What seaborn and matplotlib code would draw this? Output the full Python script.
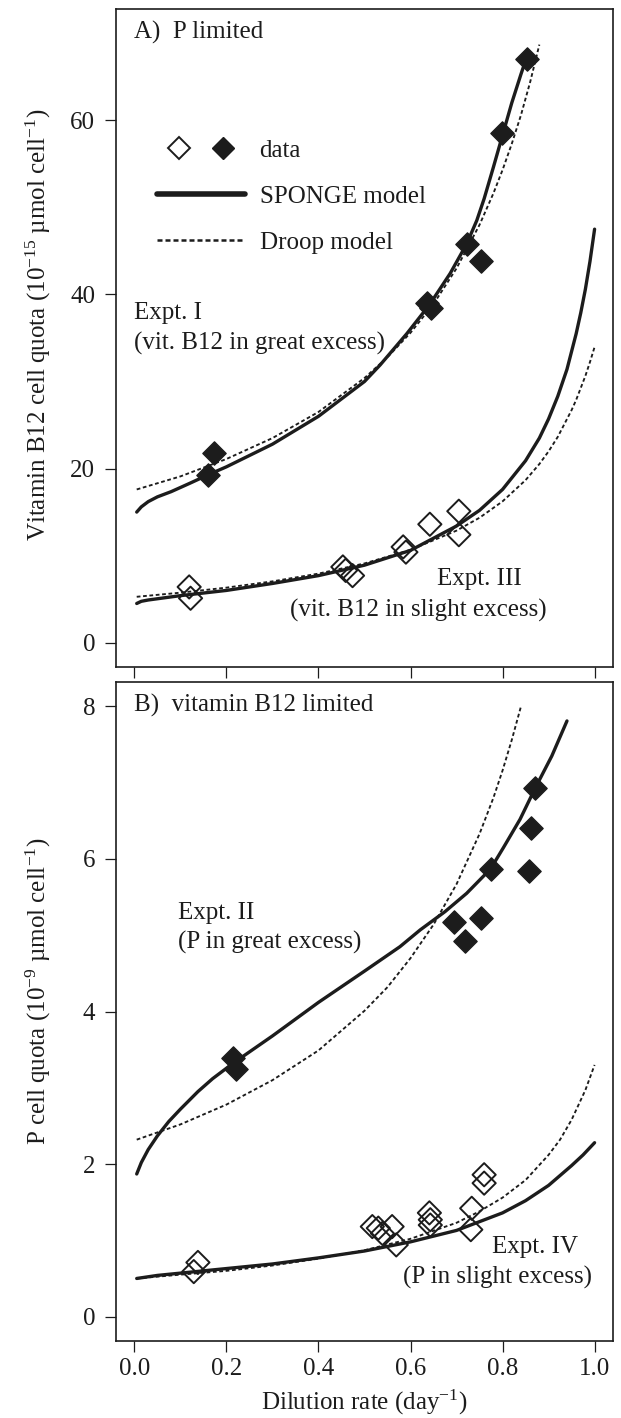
import matplotlib
matplotlib.use("Agg")
import matplotlib.pyplot as plt
import pandas as pd
import seaborn as sns
from matplotlib.lines import Line2D
from matplotlib.legend_handler import HandlerTuple

# ---------------- measured data ----------------
# Panel A: P limited chemostats
expt1_rate = [0.161, 0.172, 0.635, 0.645, 0.722, 0.753, 0.798, 0.853]
expt1_quota = [19.3, 21.8, 39.0, 38.5, 45.8, 43.8, 58.5, 67.0]

expt3_rate = [0.119, 0.122, 0.453, 0.459, 0.474, 0.584, 0.590, 0.642, 0.705, 0.705]
expt3_quota = [6.4, 5.1, 8.7, 8.3, 7.7, 11.0, 10.4, 13.6, 15.1, 12.4]

# Panel B: vitamin B12 limited chemostats
expt2_rate = [0.214, 0.220, 0.694, 0.719, 0.753, 0.774, 0.858, 0.862, 0.871]
expt2_quota = [3.39, 3.24, 5.17, 4.93, 5.22, 5.87, 5.84, 6.40, 6.93]

expt4_rate = [0.129, 0.138, 0.517, 0.530, 0.539, 0.560, 0.569, 0.641, 0.643,
              0.643, 0.731, 0.733, 0.760, 0.760]
expt4_quota = [0.59, 0.71, 1.18, 1.16, 1.09, 1.18, 0.94, 1.36, 1.27,
               1.20, 1.14, 1.42, 1.75, 1.86]

# ---------------- model curves ----------------
sponge1_rate = [0.005, 0.015, 0.03, 0.05, 0.08, 0.12, 0.161, 0.20, 0.30, 0.40,
                0.50, 0.534, 0.592, 0.641, 0.686, 0.722, 0.744, 0.76, 0.78,
                0.80, 0.82, 0.84, 0.856]
sponge1_quota = [15.0, 15.6, 16.2, 16.75, 17.35, 18.3, 19.3, 20.2, 22.8, 26.0,
                 30.0, 31.9, 35.5, 38.8, 42.4, 45.8, 48.5, 51.0, 54.6,
                 58.3, 62.0, 65.3, 67.8]
droop1_rate = [0.005, 0.10, 0.20, 0.30, 0.40, 0.50, 0.55, 0.60, 0.65, 0.70,
               0.75, 0.78, 0.80, 0.82, 0.84, 0.86, 0.88]
droop1_quota = [17.6, 19.1, 21.1, 23.5, 26.5, 30.4, 32.8, 35.6, 38.9, 43.0,
                48.0, 51.6, 54.3, 57.3, 60.6, 64.4, 68.7]

sponge3_rate = [0.005, 0.015, 0.03, 0.10, 0.20, 0.30, 0.40, 0.50, 0.60, 0.70,
                0.75, 0.80, 0.85, 0.88, 0.90, 0.92, 0.94, 0.96, 0.97, 0.98,
                0.99, 1.00]
sponge3_quota = [4.5, 4.75, 4.9, 5.4, 6.0, 6.8, 7.7, 8.9, 10.6, 13.4,
                 15.2, 17.6, 20.9, 23.5, 25.7, 28.3, 31.4, 35.5, 37.9, 40.6,
                 43.8, 47.5]
droop3_rate = [0.005, 0.10, 0.20, 0.30, 0.40, 0.50, 0.60, 0.70, 0.75, 0.80,
               0.85, 0.88, 0.90, 0.92, 0.95, 0.96, 0.98, 0.99, 1.00]
droop3_quota = [5.27, 5.74, 6.32, 7.04, 7.93, 9.10, 10.66, 12.87, 14.35, 16.23,
                18.67, 20.52, 21.97, 23.64, 26.71, 27.89, 30.64, 32.24, 33.97]

sponge2_rate = [0.005, 0.015, 0.03, 0.05, 0.075, 0.10, 0.138, 0.17, 0.214,
                0.30, 0.40, 0.50, 0.577, 0.621, 0.675, 0.722, 0.774, 0.802,
                0.838, 0.871, 0.907, 0.94]
sponge2_quota = [1.87, 2.02, 2.19, 2.37, 2.56, 2.72, 2.95, 3.12, 3.32,
                 3.68, 4.12, 4.53, 4.85, 5.07, 5.31, 5.55, 5.87, 6.15,
                 6.52, 6.93, 7.35, 7.81]
droop2_rate = [0.005, 0.10, 0.20, 0.30, 0.40, 0.50, 0.55, 0.60, 0.65, 0.70,
               0.75, 0.78, 0.80, 0.82, 0.84]
droop2_quota = [2.32, 2.52, 2.78, 3.10, 3.49, 4.01, 4.32, 4.70, 5.14, 5.67,
                6.33, 6.80, 7.16, 7.56, 8.00]

sponge4_rate = [0.005, 0.05, 0.10, 0.20, 0.30, 0.40, 0.50, 0.60, 0.70, 0.80,
                0.85, 0.90, 0.95, 0.975, 1.00]
sponge4_quota = [0.50, 0.54, 0.57, 0.63, 0.69, 0.77, 0.86, 0.98, 1.13, 1.36,
                 1.52, 1.72, 1.98, 2.12, 2.28]
droop4_rate = [0.005, 0.10, 0.20, 0.30, 0.40, 0.50, 0.60, 0.70, 0.75, 0.80,
               0.85, 0.90, 0.925, 0.95, 0.98, 1.00]
droop4_quota = [0.50, 0.55, 0.60, 0.67, 0.76, 0.87, 1.02, 1.23, 1.38, 1.56,
                1.79, 2.12, 2.32, 2.58, 2.97, 3.30]

x_ticks = [0.0, 0.2, 0.4, 0.6, 0.8, 1.0]
x_ticklabels = ["0.0", "0.2", "0.4", "0.6", "0.8", "1.0"]
yA_ticks = [0, 20, 40, 60]
yB_ticks = [0, 2, 4, 6, 8]

# ---------------- style ----------------
sns.set_style("ticks")
plt.rcParams["font.family"] = ["Liberation Serif", "DejaVu Serif"]
plt.rcParams["mathtext.fontset"] = "custom"
plt.rcParams["mathtext.rm"] = "Liberation Serif"
plt.rcParams["mathtext.it"] = "Liberation Serif:italic"
plt.rcParams["mathtext.bf"] = "Liberation Serif:bold"
INK = "#1c1c1c"
FS = 18

fig = plt.figure(figsize=(6.21, 14.18), dpi=100)
axA = fig.add_axes([0.1868, 0.5296, 0.8003, 0.4641])
axB = fig.add_axes([0.1868, 0.0543, 0.8003, 0.4647])

SOLID_LW = 2.4
DOT_LW = 1.35
DOT_STYLE = (0, (2.0, 1.4))
MS = 140


def curve(ax, xs, ys, dotted=False):
    df = pd.DataFrame({"rate": xs, "quota": ys})
    if dotted:
        sns.lineplot(data=df, x="rate", y="quota", ax=ax, color=INK,
                     lw=DOT_LW, linestyle=DOT_STYLE, estimator=None, sort=False)
    else:
        sns.lineplot(data=df, x="rate", y="quota", ax=ax, color=INK,
                     lw=SOLID_LW, estimator=None, sort=False,
                     solid_capstyle="round", solid_joinstyle="round")


def points(ax, xs, ys, filled):
    df = pd.DataFrame({"rate": xs, "quota": ys})
    if filled:
        sns.scatterplot(data=df, x="rate", y="quota", ax=ax, marker="D", s=MS,
                        color=INK, edgecolor=INK, linewidth=1.0, zorder=4)
    else:
        sns.scatterplot(data=df, x="rate", y="quota", ax=ax, marker="D", s=MS,
                        facecolor="none", edgecolor=INK, linewidth=1.4, zorder=4)


# Panel A
curve(axA, droop1_rate, droop1_quota, dotted=True)
curve(axA, droop3_rate, droop3_quota, dotted=True)
curve(axA, sponge1_rate, sponge1_quota)
curve(axA, sponge3_rate, sponge3_quota)
points(axA, expt3_rate, expt3_quota, filled=False)
points(axA, expt1_rate, expt1_quota, filled=True)

# Panel B
curve(axB, droop2_rate, droop2_quota, dotted=True)
curve(axB, droop4_rate, droop4_quota, dotted=True)
curve(axB, sponge2_rate, sponge2_quota)
curve(axB, sponge4_rate, sponge4_quota)
points(axB, expt4_rate, expt4_quota, filled=False)
points(axB, expt2_rate, expt2_quota, filled=True)

for ax in (axA, axB):
    ax.set_xlim(-0.04, 1.04)
    ax.set_xticks(x_ticks)
    for sp in ax.spines.values():
        sp.set_visible(True)
        sp.set_linewidth(1.2)
        sp.set_color(INK)
    ax.tick_params(axis="both", direction="out", length=8, width=0.9,
                   colors=INK, labelsize=FS, labelcolor=INK)
    ax.tick_params(axis="y", pad=7)
    ax.tick_params(axis="x", pad=4)
    ax.tick_params(top=False, right=False)

axA.set_ylim(-2.8, 72.8)
axA.set_yticks(yA_ticks)
axA.set_xticklabels([])
axA.set_xlabel("")
axA.set_ylabel(r"Vitamin B12 cell quota (10$^{-15}$ µmol cell$^{-1}$)",
               fontsize=FS, color=INK)
axA.yaxis.set_label_coords(-0.127, 0.52)

axB.set_ylim(-0.32, 8.32)
axB.set_yticks(yB_ticks)
axB.set_xticklabels(x_ticklabels)
axB.set_xlabel(r"Dilution rate (day$^{-1}$)", fontsize=FS, color=INK, labelpad=6)
axB.set_ylabel(r"P cell quota (10$^{-9}$ µmol cell$^{-1}$)", fontsize=FS, color=INK)
axB.yaxis.set_label_coords(-0.127, 0.531)

# Panel annotations
tA = axA.transAxes
axA.text(0.036, 0.965, "A)  P limited", transform=tA, fontsize=FS, color=INK,
         va="center", ha="left")
axA.text(0.036, 0.538, "Expt. I", transform=tA, fontsize=FS, color=INK,
         va="center", ha="left")
axA.text(0.036, 0.492, "(vit. B12 in great excess)", transform=tA, fontsize=FS,
         color=INK, va="center", ha="left")
axA.text(0.732, 0.134, "Expt. III", transform=tA, fontsize=FS, color=INK,
         va="center", ha="center")
axA.text(0.608, 0.0866, "(vit. B12 in slight excess)", transform=tA, fontsize=FS,
         color=INK, va="center", ha="center")

tB = axB.transAxes
axB.text(0.036, 0.965, "B)  vitamin B12 limited", transform=tB, fontsize=FS,
         color=INK, va="center", ha="left")
axB.text(0.125, 0.649, "Expt. II", transform=tB, fontsize=FS, color=INK,
         va="center", ha="left")
axB.text(0.125, 0.605, "(P in great excess)", transform=tB, fontsize=FS,
         color=INK, va="center", ha="left")
axB.text(0.93, 0.1426, "Expt. IV", transform=tB, fontsize=FS, color=INK,
         va="center", ha="right")
axB.text(0.958, 0.097, "(P in slight excess)", transform=tB, fontsize=FS,
         color=INK, va="center", ha="right")

# Legend
open_h = Line2D([], [], marker="D", linestyle="none", markersize=11,
                markerfacecolor="white", markeredgecolor=INK, markeredgewidth=1.4)
fill_h = Line2D([], [], marker="D", linestyle="none", markersize=11,
                markerfacecolor=INK, markeredgecolor=INK, markeredgewidth=1.0)
sponge_h = Line2D([], [], color=INK, lw=4.0)
droop_h = Line2D([], [], color=INK, lw=1.8, linestyle=(0, (2.0, 1.2)))
axA.legend([(open_h, fill_h), sponge_h, droop_h],
           ["data", "SPONGE model", "Droop model"],
           handler_map={tuple: HandlerTuple(ndivide=None, pad=0.0)},
           loc="upper left", bbox_to_anchor=(0.0825, 0.802),
           frameon=False, fontsize=FS, handlelength=3.5, handletextpad=0.6,
           labelspacing=0.95, borderpad=0.0, borderaxespad=0.0,
           labelcolor=INK)

fig.savefig("out.png", dpi=100, facecolor="white")
